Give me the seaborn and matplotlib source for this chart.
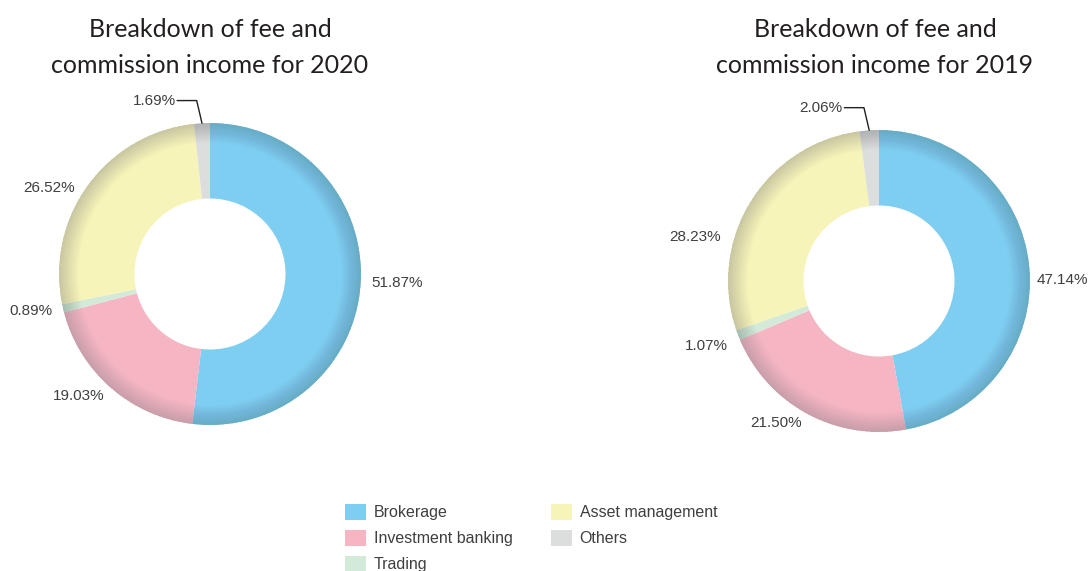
import numpy as np
import matplotlib
matplotlib.use("Agg")
import matplotlib.pyplot as plt
from matplotlib.patches import Wedge, Patch
import seaborn as sns

categories = ["Brokerage", "Investment banking", "Trading", "Asset management", "Others"]
values_2020 = [51.87, 19.03, 0.89, 26.52, 1.69]
values_2019 = [47.14, 21.50, 1.07, 28.23, 2.06]
title_line1 = "Breakdown of fee and"
title_line2 = ["commission income for 2020", "commission income for 2019"]
colors = ["#7ECEF2", "#F5B5C3", "#D3EAD8", "#F6F4B8", "#DCDDDD"]

sns.set_theme(style="white")
plt.rcParams['font.family'] = ['Liberation Sans', 'DejaVu Sans']

W, H = 1089, 571
fig = plt.figure(figsize=(W / 100, H / 100), dpi=100)
fig.patch.set_facecolor("white")
R = 151.0
LABEL_COLOR = "#3f3f3f"


def add_ax(box):
    x0, y0, x1, y1 = box
    return fig.add_axes([x0 / W, 1 - y1 / H, (x1 - x0) / W, (y1 - y0) / H])


def set_limits(ax, box, center):
    x0, y0, x1, y1 = box
    cx, cy = center
    ax.set_xlim((x0 - cx) / R, (x1 - cx) / R)
    ax.set_ylim((cy - y1) / R, (cy - y0) / R)
    ax.set_aspect("auto")
    ax.axis("off")


def donut(ax, vals, nudges):
    labels = [f"{v:.2f}%" if c != "Others" else "" for v, c in zip(vals, categories)]
    wedges, texts = ax.pie(vals, colors=colors, startangle=90, counterclock=False,
                           radius=1.0, labels=labels, labeldistance=1.07,
                           wedgeprops=dict(width=0.5, edgecolor="none", linewidth=0),
                           textprops=dict(fontsize=11, color=LABEL_COLOR))
    for t, c in zip(texts, categories):
        t.set_va("center")
        if c in nudges:
            x, y = t.get_position()
            dx, dy = nudges[c]
            t.set_position((x + dx, y + dy))
    # soft radial shading toward the outer rim
    n = 22
    for k in range(n):
        r_in = 0.87 + 0.125 * k / n
        ax.add_patch(Wedge((0, 0), 1.0, 0, 360, width=1.0 - r_in,
                           facecolor="#2a3a40", edgecolor="none", alpha=0.009))
    # Others label with leader line
    idx = categories.index("Others")
    start = sum(vals[:idx])
    mid = start + vals[idx] / 2
    theta = np.deg2rad(90 - mid / 100 * 360)
    x0, y0 = np.cos(theta), np.sin(theta)
    x1, y1 = x0 - 0.035, y0 + 0.15
    x2 = x1 - 0.13
    ax.plot([x0, x1, x2], [y0, y1, y1], color="#231f20", lw=1)
    ax.text(x2 - 0.01, y1, f"{vals[idx]:.2f}%", ha="right", va="center",
            fontsize=11, color=LABEL_COLOR)


b1, c1 = (0, 90, 440, 470), (210, 274)
ax1 = add_ax(b1)
donut(ax1, values_2020, {"Asset management": (-0.03, -0.06)})
set_limits(ax1, b1, c1)

b2, c2 = (660, 90, 1089, 470), (879, 281)
ax2 = add_ax(b2)
donut(ax2, values_2019, {"Asset management": (-0.14, -0.27),
                         "Brokerage": (-0.025, -0.09),
                         "Trading": (0.0, -0.05)})
set_limits(ax2, b2, c2)

for cx, l2 in zip([210, 875], title_line2):
    fig.text(cx / W, 1 - 37 / H, title_line1, ha="center", va="baseline", fontsize=18,
             family=["Lato", "DejaVu Sans"], color="#231f20")
    fig.text(cx / W, 1 - 73 / H, l2, ha="center", va="baseline", fontsize=18,
             family=["Lato", "DejaVu Sans"], color="#231f20")

handles = [Patch(facecolor=c, edgecolor="none", label=l) for c, l in zip(colors, categories)]
fig.legend(handles=handles, loc="upper left", bbox_to_anchor=(345 / W, 1 - 504 / H),
           ncol=2, frameon=False, fontsize=11.5, handlelength=1.3, handleheight=1.15,
           handletextpad=0.5, columnspacing=2.4, labelspacing=0.6, borderpad=0,
           borderaxespad=0, labelcolor=LABEL_COLOR)

fig.savefig("out.png", dpi=100, facecolor="white")
